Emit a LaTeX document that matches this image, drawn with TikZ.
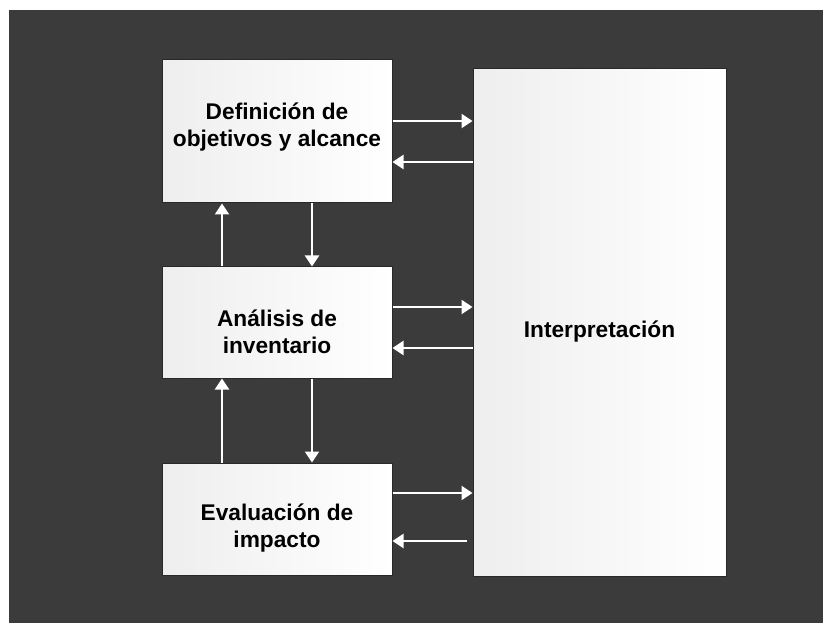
\documentclass[tikz,border=0pt]{standalone}
\usepackage{fontspec}
\setmainfont{Liberation Sans}
\usetikzlibrary{arrows.meta}
\definecolor{fondo}{RGB}{59,59,59}
\definecolor{cajaizq}{RGB}{238,238,238}
\tikzset{
	caja/.style={draw={rgb,255:red,40;green,40;blue,40},line width=1pt,left color=cajaizq,right color=white,inner sep=0pt},
	texto/.style={align=center,font=\bfseries\fontsize{22.7}{27}\selectfont},
	flecha/.style={draw=white,line width=2.4pt,-{Triangle[length=11pt,width=14pt]}}}
\tikzset{every picture/.style={line width=0.75pt}}

\begin{document}
\begin{tikzpicture}[x=1pt,y=1pt,yscale=-1,xscale=1]
	%set diagram size 823 x 623
	\useasboundingbox (0,0) rectangle (823,623);

	%Shape: Rectangle [background]
	\fill[white] (0,0) rectangle (823,623);
	\fill[fondo] (9,10) rectangle (823,623);

	%Shape: Rectangle [boxes]
	\node[caja,minimum width=230pt,minimum height=143pt] (def) at (277,131.5) {};
	\node[caja,minimum width=230pt,minimum height=111pt] (ana) at (277,322.5) {};
	\node[caja,minimum width=230pt,minimum height=112pt] (eva) at (277,519) {};
	\node[caja,minimum width=253pt,minimum height=507pt] (interp) at (599.5,322.5) {};

	% Text Node
	\node[texto] (txtdef) at (277,127) {Definición de\\objetivos y alcance};
	% Text Node
	\node[texto] (txtana) at (277,332) {Análisis de\\inventario};
	% Text Node
	\node[texto] (txteva) at (277,528) {Evaluación de\\impacto};
	% Text Node
	\node[texto] (txtinterp) at (599.5,332) {Interpretación};

	%Straight Lines [between boxes]
	\draw[flecha] ([xshift=-55pt]ana.north) -- ([xshift=-55pt]def.south);
	\draw[flecha] ([xshift=35pt]def.south) -- ([xshift=35pt]ana.north);
	\draw[flecha] ([xshift=-55pt]eva.north) -- ([xshift=-55pt]ana.south);
	\draw[flecha] ([xshift=35pt]ana.south) -- ([xshift=35pt]eva.north);

	%Straight Lines [to and from interpretation]
	\draw[flecha] ([yshift=-10.5pt]def.east) -- ([yshift=-10.5pt]def.east -| interp.west);
	\draw[flecha] ([yshift=30.5pt]def.east -| interp.west) -- ([yshift=30.5pt]def.east);
	\draw[flecha] ([yshift=-15.5pt]ana.east) -- ([yshift=-15.5pt]ana.east -| interp.west);
	\draw[flecha] ([yshift=25.5pt]ana.east -| interp.west) -- ([yshift=25.5pt]ana.east);
	\draw[flecha] ([yshift=-26pt]eva.east) -- ([yshift=-26pt]eva.east -| interp.west);
	\draw[flecha,shorten <=6pt] ([yshift=22pt]eva.east -| interp.west) -- ([yshift=22pt]eva.east);

\end{tikzpicture}
\end{document}
